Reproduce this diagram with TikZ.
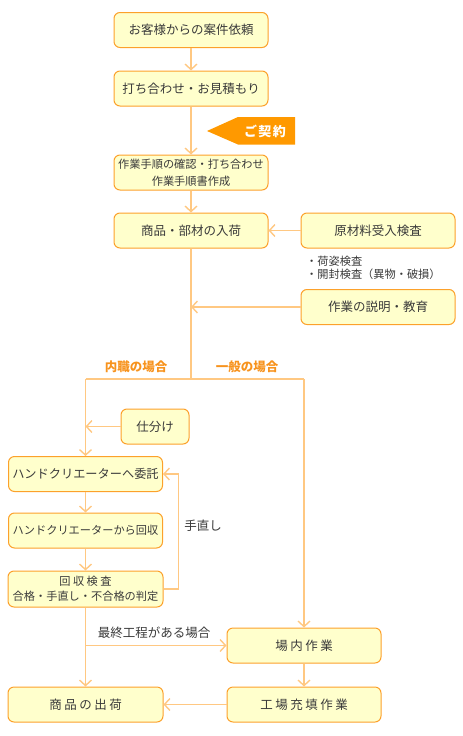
\documentclass[tikz,border=0pt]{standalone}
\usepackage{fontspec}
\setmainfont{Noto Sans CJK JP}
\usetikzlibrary{arrows.meta}
\definecolor{boxfill}{HTML}{FFFFCC}
\definecolor{boxline}{HTML}{FCA12B}
\definecolor{conn}{HTML}{FFC882}
\definecolor{txt}{HTML}{3A3A3A}
\definecolor{lab}{HTML}{F7931E}
\definecolor{keiyaku}{HTML}{FF9900}
\newcommand{\ks}{\kern2.5pt}
\tikzset{
  box/.style={draw=boxline, fill=boxfill, line width=1pt, rounded corners=6pt,
    minimum width=154pt, minimum height=35pt, inner sep=0pt, align=center,
    text=txt, font=\fontsize{12.5}{14}\selectfont},
  smallbox/.style={box, font=\fontsize{11.2}{13}\selectfont},
  conn/.style={draw=conn, line width=1.4pt},
  arr/.style={conn, -{Straight Barb[length=5.5pt,width=12pt,line width=1.4pt]}},
  lbl/.style={text=lab, font=\fontsize{12.5}{14}\selectfont\bfseries, inner sep=0pt},
  note/.style={text=txt, font=\fontsize{12.5}{14}\selectfont, inner sep=0pt},
}
\begin{document}
\begin{tikzpicture}[x=1pt,y=-1pt]
\useasboundingbox (0,0) rectangle (463,736);
% nodes
\node[box] (b1) at (191,30) {お客様からの案件依頼};
\node[box] (b2) at (191,88.5) {打ち合わせ・お見積もり};
\node[smallbox, font=\fontsize{11.2}{17}\selectfont] (b3) at (191,172.5) {作業手順の確認・打ち合わせ\\作業手順書作成};
\node[box] (b4) at (191,230.5) {商品・部材の入荷};
\node[box] (b5) at (378,230.5) {原材料受入検査};
\node[box] (b6) at (378,307) {作業の説明・教育};
\node[box, minimum width=68pt] (sort) at (155,426.5) {仕分け};
\node[box, font=\fontsize{12.2}{14}\selectfont] (b7) at (85.5,474) {ハンドクリエーターへ委託};
\node[smallbox] (b8) at (85.5,530.5) {ハンドクリエーターから回収};
\node[smallbox, font=\fontsize{11.2}{15}\selectfont, minimum width=155pt, minimum height=36pt] (b9) at (85.5,589) {回\ks 収\ks 検\ks 査\\合格・手直し・不合格の判定};
\node[box] (b10) at (304,645.5) {場\ks 内\ks 作\ks 業};
\node[box] (b11) at (304,704.5) {工\ks 場\ks 充\ks 填\ks 作\ks 業};
\node[box, minimum width=155pt] (b12) at (85.5,704.5) {商\ks 品\ks の\ks 出\ks 荷};
% contract pointer
\fill[keiyaku] (207,131) -- (238,117) -- (295,117) -- (295,144.5) -- (238,144.5) -- cycle;
\node[text=white, font=\fontsize{13}{14}\selectfont\bfseries, inner sep=0pt] (kei) at (265,131) {ご\kern1.5pt 契\kern1.5pt 約};
% labels
\node[note, anchor=west, align=left, font=\fontsize{11.2}{13}\selectfont] (insp) at (306,267.5) {・荷姿検査\\・開封検査（異物・破損）};
\node[lbl] (naishoku) at (136,367) {内職の場合};
\node[lbl] (ippan) at (247,367) {一般の場合};
\node[note] (tenaoshi) at (203,526) {手直し};
\node[note] (saishu) at (154,633) {最終工程がある場合};
% coordinates
\coordinate (split) at (b4.south |- 0,379);
\coordinate (L) at (b7.north |- split);
\coordinate (R) at (b10.north |- split);
\coordinate (br) at (b9.south |- b10.west);
% connectors
\draw[arr] (b1) -- (b2);
\draw[arr] (b2) -- (b3);
\draw[arr] (b3) -- (b4);
\draw[arr] (b5) -- (b4);
\draw[arr] (b6.west) -- (b6.west -| b4);
\draw[conn] (b4.south) -- (split);
\draw[conn] (L) -- (R);
\draw[arr] (L) -- (b7.north);
\draw[arr] (sort.west) -- (sort.west -| L);
\draw[arr] (b7) -- (b8);
\draw[arr] (b8) -- (b9);
\draw[arr] (b9.east) -- ++(15,0) |- (b7.east);
\draw[arr] (R) -- (b10.north);
\draw[arr] (b9.south) -- (b12.north);
\draw[arr] (br) -- (b10.west);
\draw[arr] (b10) -- (b11);
\draw[arr] (b11) -- (b12);
\end{tikzpicture}
\end{document}
